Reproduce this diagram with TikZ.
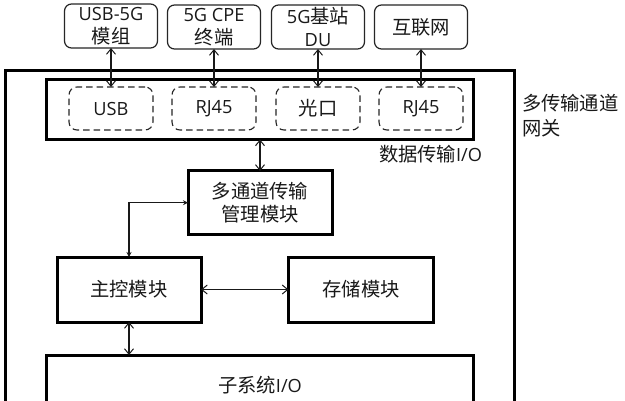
\documentclass[tikz,border=0pt]{standalone}
\usepackage{fontspec}
\setmainfont{Open Sans}
\newfontfamily\cjk[Scale=1.06]{Noto Sans CJK SC}
\usetikzlibrary{arrows.meta}
\newcommand{\cn}[1]{{\cjk #1}}
\tikzset{
  x=1pt,y=-1pt,
  every node/.style={text=black!90,font=\fontsize{18.2}{23}\selectfont,align=center,inner sep=0pt,outer sep=0pt},
  heavy/.style={draw=black,line width=3pt,fill=none},
  soft/.style={draw=black!85,line width=1.2pt,rounded corners=7pt,minimum width=93pt,minimum height=44pt},
  dashbox/.style={draw=black!85,line width=1.1pt,dash pattern=on 6.5pt off 4pt,rounded corners=8pt,minimum width=84pt,minimum height=43pt},
  link/.style={draw=black!90,line width=1.1pt,{Straight Barb[length=5.5pt,width=9pt,line width=1pt]}-{Straight Barb[length=5.5pt,width=9pt,line width=1pt]}},
  elbow/.style={draw=black!90,line width=1.1pt,{Stealth[length=5pt,width=5pt]}-{Stealth[length=5pt,width=5pt]}}
}
\begin{document}
\begin{tikzpicture}
\useasboundingbox (0,0) rectangle (625,400);
\clip (0,0) rectangle (625,400);
\fill[white] (0,0) rectangle (625,400);
% frames
\node[heavy,minimum width=509pt,minimum height=370pt] (gw) at (260,255.5) {};
\node[heavy,minimum width=427pt,minimum height=59.5pt] (dio) at (260.3,109.7) {};
\node[heavy,minimum width=427pt,minimum height=90pt] (sub) at (260.3,400) {};
% external devices
\node[soft] (usb5g) at (111,26) {USB-5G\\\cn{模组}};
\node[soft] (cpe) at (214,27) {5G CPE\\\cn{终端}};
\node[soft] (du) at (318,27) {5G\cn{基站}\\DU};
\node[soft] (net) at (421,27) {\cn{互联网}};
% ports
\node[dashbox] (p1) at (111,108.5) {USB};
\node[dashbox] (p2) at (214,108.5) {RJ45};
\node[dashbox] (p3) at (318,108.5) {\cn{光口}};
\node[dashbox] (p4) at (421,108.5) {RJ45};
% modules
\node[heavy,minimum width=144pt,minimum height=63.5pt] (mux) at (260,202.7) {\cn{多通道传输}\\\cn{管理模块}};
\node[heavy,minimum width=144pt,minimum height=65pt] (ctrl) at (129,289.5) {\cn{主控模块}};
\node[heavy,minimum width=145pt,minimum height=65pt] (mem) at (361,289.5) {\cn{存储模块}};
% labels
\node[anchor=west] (lgw) at (522,103) {\cn{多传输通道}};
\node[anchor=west] (lgw2) at (522,128) {\cn{网关}};
\node[anchor=west] (lio) at (379,154) {\cn{数据传输}I/O};
\node (lsub) at (260,385) {\cn{子系统}I/O};
% connectors
\draw[link] (usb5g.south) -- (p1.north);
\draw[link] (cpe.south) -- (p2.north);
\draw[link] (du.south) -- (p3.north);
\draw[link] (net.south) -- (p4.north);
\draw[link] (dio.south -| mux.north) -- (mux.north);
\draw[elbow] (mux.west) -| (ctrl.north);
\draw[link] (ctrl.east) -- (mem.west);
\draw[link] (ctrl.south) -- (ctrl.south |- sub.north);
\end{tikzpicture}
\end{document}
